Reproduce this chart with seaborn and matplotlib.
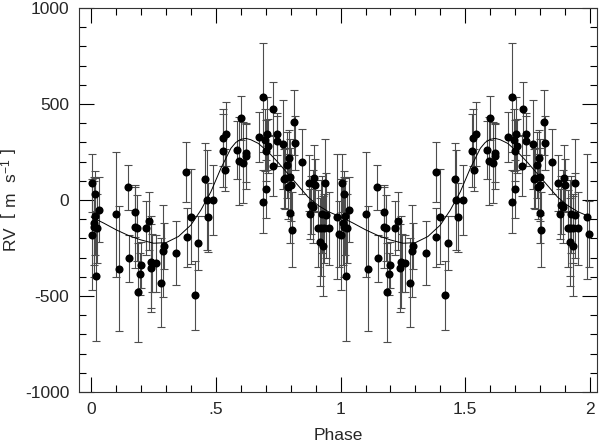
import numpy as np
import pandas as pd
import seaborn as sns
import matplotlib
matplotlib.use("Agg")
import matplotlib.pyplot as plt
from matplotlib.ticker import MultipleLocator, FixedLocator

phase = [0.005, 0.015, 0.002, 0.016, 0.012, 0.020, 0.032, 0.025, 0.010,
         0.101, 0.111, 0.146, 0.150, 0.176, 0.175, 0.183, 0.199, 0.196,
         0.188, 0.218, 0.230, 0.239, 0.241, 0.245, 0.258, 0.280, 0.287,
         0.291, 0.342, 0.381, 0.383, 0.400, 0.417, 0.429, 0.457, 0.464,
         0.470, 0.490, 0.528, 0.530, 0.541, 0.536, 0.601, 0.586, 0.594,
         0.610, 0.620, 0.621, 0.687, 0.671, 0.704, 0.697, 0.707, 0.701,
         0.731, 0.744, 0.744, 0.727, 0.699, 0.688, 0.771, 0.774, 0.815,
         0.818, 0.787, 0.795, 0.778, 0.798, 0.791, 0.800, 0.798, 0.804,
         0.847, 0.872, 0.895, 0.899, 0.891, 0.878, 0.938, 0.924, 0.940,
         0.911, 0.920, 0.933, 0.953, 0.918, 0.931, 0.986, 0.994, 0.882]
rv = [90, 31, -180, -85, -140, -395, -50, -148, -120,
      -75, -358, 66, -303, -63, -139, -146, -339, -385,
      -481, -146, -110, -354, -323, -328, -330, -430, -266,
      -238, -276, 144, -194, -87, -497, -222, 108, -2,
      -90, 0, 257, 325, 344, 156, 425, 260, 203,
      194, 246, 229, 535, 326, 344, 312, 281, 257,
      476, 344, 305, 177, 56, -9, 290, 111, 405,
      298, 182, 217, 113, 120, 69, 80, -65, -154,
      200, 90, 113, 80, -35, -75, 88, -75, -80,
      -148, -148, -148, -148, -217, -240, -87, -177, -26]
err = [150, 120, 290, 200, 260, 340, 170, 180, 220,
       325, 325, 118, 123, 130, 215, 170, 120, 110,
       257, 140, 150, 230, 240, 150, 150, 230, 240,
       120, 165, 156, 154, 247, 182, 140, 190, 260,
       180, 184, 190, 150, 165, 110, 115, 150, 230,
       210, 150, 170, 283, 130, 190, 160, 140, 160,
       140, 110, 130, 155, 150, 165, 230, 155, 170,
       140, 170, 150, 160, 200, 170, 190, 160, 194,
       170, 145, 175, 135, 190, 130, 230, 200, 220,
       200, 250, 180, 190, 230, 260, 325, 170, 150]

# フィット曲線
curve_phase = [0.00, 0.05, 0.10, 0.15, 0.20, 0.25, 0.30, 0.35, 0.40, 0.44,
               0.48, 0.52, 0.56, 0.58, 0.60, 0.62, 0.64, 0.67, 0.71, 0.75,
               0.79, 0.83, 0.87, 0.91, 0.95, 1.00]
curve_rv = [-88, -120, -155, -185, -208, -225, -222, -190, -130, -52,
            43, 165, 269, 300, 316, 321, 314, 295, 250, 195,
            135, 75, 15, -28, -60, -88]

# 2 周期分並べる
obs = pd.DataFrame({"phase": phase, "rv": rv, "err": err})
obs = pd.concat([obs, obs.assign(phase=obs["phase"] + 1)], ignore_index=True)
fit = pd.DataFrame({"phase": curve_phase, "rv": curve_rv})
fit = pd.concat([fit, fit.iloc[1:].assign(phase=fit["phase"].iloc[1:] + 1)], ignore_index=True)

sns.set_theme(style="ticks")
plt.rcParams["font.family"] = ["Liberation Sans", "DejaVu Sans"]
plt.rcParams["mathtext.fontset"] = "custom"
plt.rcParams["mathtext.rm"] = "Liberation Sans"
plt.rcParams["axes.unicode_minus"] = False

fig = plt.figure(figsize=(6, 4.44), dpi=100)
ax = fig.add_axes([0.132, 0.117, 0.863, 0.865])

ax.errorbar(obs["phase"], obs["rv"], yerr=obs["err"], fmt="none",
            ecolor="0.3", elinewidth=0.8, capsize=3, capthick=0.8, zorder=1)
sns.lineplot(data=fit, x="phase", y="rv", ax=ax, color="black", lw=0.7,
             sort=False, estimator=None, zorder=2)
sns.scatterplot(data=obs, x="phase", y="rv", ax=ax, color="black", s=34,
                edgecolor="black", linewidth=0, zorder=3)

ax.set_xlim(-0.048, 2.028)
ax.set_ylim(-1000, 1000)
ax.xaxis.set_major_locator(FixedLocator([0, 0.5, 1, 1.5, 2]))
ax.set_xticklabels(["0", ".5", "1", "1.5", "2"])
ax.xaxis.set_minor_locator(MultipleLocator(0.1))
ax.yaxis.set_major_locator(MultipleLocator(500))
ax.yaxis.set_minor_locator(MultipleLocator(100))
ax.tick_params(which="both", direction="in", top=True, right=True,
               labelsize=12.5, color="black", width=0.8)
ax.tick_params(which="major", length=11, pad=7)
ax.tick_params(which="minor", length=5)
for s in ax.spines.values():
    s.set_linewidth(0.8)
    s.set_color("0.2")

ax.set_xlabel("Phase", fontsize=12.5, labelpad=8)
ax.set_ylabel(r"RV  $\left[\ \mathrm{m\ \ s^{-1}}\ \right]$", fontsize=12.5, labelpad=4)

fig.savefig("out.png", dpi=100)
